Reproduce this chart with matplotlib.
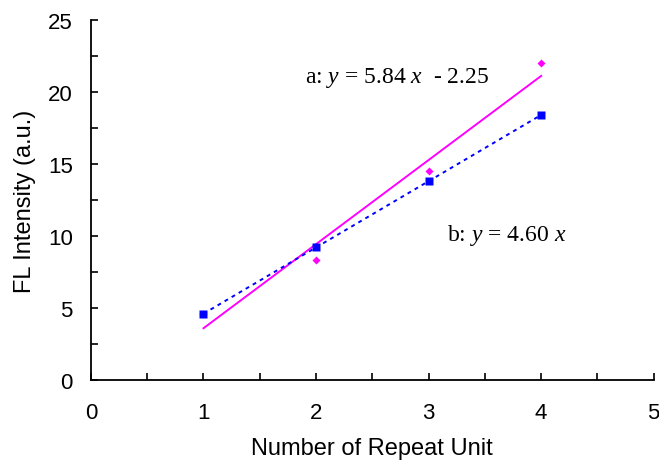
import numpy as np
import matplotlib
matplotlib.use("Agg")
import matplotlib.pyplot as plt
from matplotlib.ticker import MultipleLocator

# --- data ---
repeat_units = [1, 2, 3, 4]
intensity_a = [4.6, 8.3, 14.5, 22.0]   # pink diamonds
intensity_b = [4.6, 9.2, 13.8, 18.4]   # blue squares
slope_a, intercept_a = 5.84, -2.25
slope_b = 4.60

plt.rcParams['font.family'] = ['Liberation Sans', 'DejaVu Sans']
plt.rcParams['mathtext.fontset'] = 'custom'
plt.rcParams['mathtext.rm'] = 'Liberation Serif'
plt.rcParams['mathtext.it'] = 'Liberation Serif:italic'

fig = plt.figure(figsize=(6.59, 4.64), dpi=100)
ax = fig.add_axes([0.138, 0.179, 0.854, 0.776])

x = np.array(repeat_units, dtype=float)
fit_x = np.array([x.min(), x.max()])

# --- fits ---
ax.plot(fit_x, slope_a * fit_x + intercept_a, color='#FF00FF', lw=1.4, zorder=2)
ax.plot(fit_x, slope_b * fit_x, color='#0000FF', lw=1.4,
        linestyle=(0, (2, 2.2)), zorder=2)

# --- points ---
ax.plot(x, intensity_a, linestyle='none', marker='D', ms=4.5,
        color='#FF00FF', mec='none', zorder=3)
ax.plot(x, intensity_b, linestyle='none', marker='s', ms=6,
        color='#0000FF', mec='none', zorder=4)

# --- equations ---
serif = 'Liberation Serif'
ax.text(1.90, 21.0, r"a: $\mathit{y}$ = 5.84 $\mathit{x}$  - 2.25",
        family=serif, fontsize=17, va='center', ha='left')
ax.text(3.16, 10.1, r"b: $\mathit{y}$ = 4.60 $\mathit{x}$",
        family=serif, fontsize=17, va='center', ha='left')

# --- axes ---
ax.set_xlim(0, 5)
ax.set_ylim(0, 25)
ax.xaxis.set_major_locator(MultipleLocator(1))
ax.xaxis.set_minor_locator(MultipleLocator(0.5))
ax.yaxis.set_major_locator(MultipleLocator(5))
ax.yaxis.set_minor_locator(MultipleLocator(2.5))
ax.tick_params(which='both', direction='in', width=1.2, length=5, labelsize=16)
ax.tick_params(axis='y', pad=13)
ax.tick_params(axis='x', pad=16)
for side in ('top', 'right'):
    ax.spines[side].set_visible(False)
for side in ('left', 'bottom'):
    ax.spines[side].set_linewidth(1.3)

ax.set_xlabel('Number of Repeat Unit', fontsize=17, labelpad=10)
ax.set_ylabel('FL Intensity (a.u.)', fontsize=17, labelpad=9)

fig.savefig('out.png', dpi=100)
